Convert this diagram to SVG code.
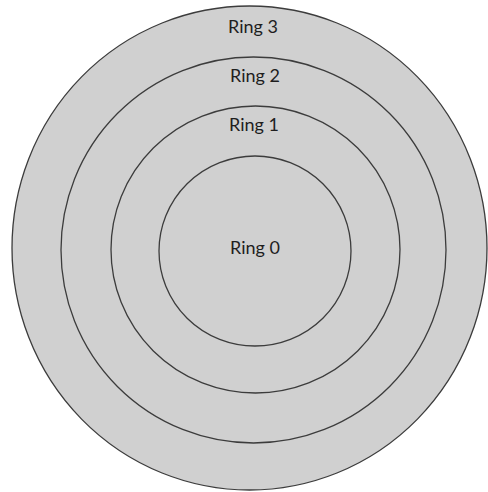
<svg xmlns="http://www.w3.org/2000/svg" width="488" height="492" viewBox="0 0 488 492">
  <style>
    .ring { fill: #d0d0d0; stroke: #3c3c3c; stroke-width: 1.3; }
    .lbl { font-family: Lato, "Open Sans", "Liberation Sans", sans-serif; font-size: 18px; fill: #1e1e1e; text-anchor: middle; }
  </style>
  <rect width="488" height="492" fill="#ffffff"/>
  <g id="ring3">
    <ellipse class="ring" cx="249.5" cy="248" rx="237.5" ry="242"/>
    <text class="lbl" x="253" y="33">Ring 3</text>
  </g>
  <g id="ring2">
    <ellipse class="ring" cx="253.5" cy="250" rx="192.5" ry="193"/>
    <text class="lbl" x="255" y="82">Ring 2</text>
  </g>
  <g id="ring1">
    <ellipse class="ring" cx="255.5" cy="249.5" rx="144.5" ry="143.5"/>
    <text class="lbl" x="254" y="131">Ring 1</text>
  </g>
  <g id="ring0">
    <ellipse class="ring" cx="255" cy="251" rx="96" ry="95"/>
    <text class="lbl" x="255" y="254">Ring 0</text>
  </g>
  <g id="connectors"/>
</svg>
